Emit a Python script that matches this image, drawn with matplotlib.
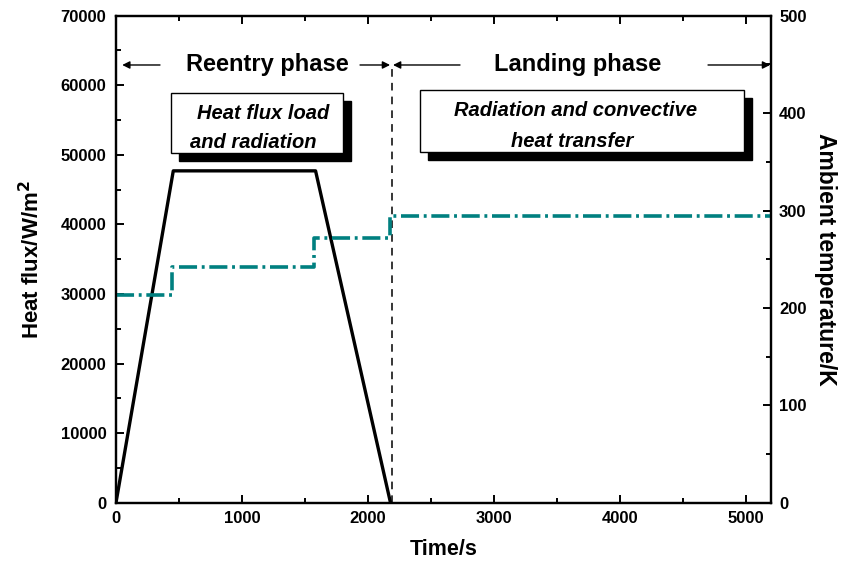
import numpy as np
import matplotlib
matplotlib.use('Agg')
import matplotlib.pyplot as plt
from matplotlib.patches import Rectangle
from matplotlib.ticker import MultipleLocator

plt.rcParams['font.family'] = ['Liberation Sans', 'DejaVu Sans']
plt.rcParams['font.weight'] = 'bold'
plt.rcParams['axes.labelweight'] = 'bold'

# heat flux load (left axis)
time_q = [0, 455, 1585, 2180]
heat_flux = [0, 47700, 47700, 0]

# ambient temperature steps (right axis)
time_T = [0, 445, 1570, 2180, 5200]
temp_T = [213, 242, 272, 294, 294]

t_split = 2190  # reentry / landing boundary

fig = plt.figure(figsize=(8.51, 5.67), dpi=100)
ax = fig.add_axes([0.1363, 0.1134, 0.7694, 0.8589])
ax2 = ax.twinx()

ax.plot(time_q, heat_flux, color='black', lw=2.4, zorder=3)
ax.plot([t_split, t_split], [0, 63000], color='black', lw=1.1, ls=(0, (5, 4)), zorder=2)
ax2.plot(time_T, temp_T, color='#008080', lw=2.6, ls=(0, (5, 1.3, 0.8, 1.3)), drawstyle='steps-post')

ax.set_xlim(0, 5200)
ax.set_ylim(0, 70000)
ax2.set_ylim(0, 500)
ax.xaxis.set_major_locator(MultipleLocator(1000))
ax.xaxis.set_minor_locator(MultipleLocator(500))
ax.yaxis.set_major_locator(MultipleLocator(10000))
ax.yaxis.set_minor_locator(MultipleLocator(5000))
ax2.yaxis.set_major_locator(MultipleLocator(100))
ax2.yaxis.set_minor_locator(MultipleLocator(50))

for a in (ax, ax2):
    for s in a.spines.values():
        s.set_linewidth(1.6)
ax.tick_params(which='both', direction='in', top=True, width=1.4, labelsize=12)
ax.tick_params(which='major', length=6)
ax.tick_params(which='minor', length=3.5)
ax.tick_params(axis='x', pad=6)
ax.tick_params(axis='y', pad=7)
ax2.tick_params(which='both', direction='in', width=1.4, labelsize=12, pad=6)
ax2.tick_params(which='major', length=6)
ax2.tick_params(which='minor', length=3.5)

ax.set_xlabel('Time/s', fontsize=15.5, labelpad=9)
ax.set_ylabel('Heat flux/W/m$^\\mathbf{2}$', fontsize=16, labelpad=12)
ax2.set_ylabel('Ambient temperature/K', fontsize=16.5, rotation=270, labelpad=22)

# phase labels with arrows
ax.text(0.2306, 0.8988, 'Reentry phase', transform=ax.transAxes, fontsize=17,
        ha='center', va='center')
ax.text(0.7049, 0.8988, 'Landing phase', transform=ax.transAxes, fontsize=17,
        ha='center', va='center')
arrows = [(0.0672, 0.0095), (0.3727, 0.4186), (0.5254, 0.4231), (0.9042, 0.999)]
for x0, x1 in arrows:
    ax.annotate('', xy=(x1, 0.8988), xytext=(x0, 0.8988), xycoords='axes fraction',
                arrowprops=dict(arrowstyle='-|>', color='black', lw=1.0,
                                mutation_scale=11, shrinkA=0, shrinkB=0))

# shadowed text boxes
boxes = [(0.0835, 0.7187, 0.2632, 0.1232), (0.4643, 0.7208, 0.4954, 0.1266)]
for bx, by, bw, bh in boxes:
    ax.add_patch(Rectangle((bx + 0.0122, by - 0.0164), bw, bh, transform=ax.transAxes,
                           facecolor='black', edgecolor='black', zorder=4))
    ax.add_patch(Rectangle((bx, by), bw, bh, transform=ax.transAxes,
                           facecolor='white', edgecolor='black', lw=1.0, zorder=5))

box_text = [('Heat flux load', 0.2245, 0.800), ('and radiation', 0.2103, 0.739),
            ('Radiation and convective', 0.7026, 0.806), ('heat transfer', 0.6972, 0.741)]
for s, x, y in box_text:
    ax.text(x, y, s, transform=ax.transAxes, fontsize=14.5, style='italic',
            ha='center', va='center', zorder=6)

fig.savefig('out.png', dpi=100)
